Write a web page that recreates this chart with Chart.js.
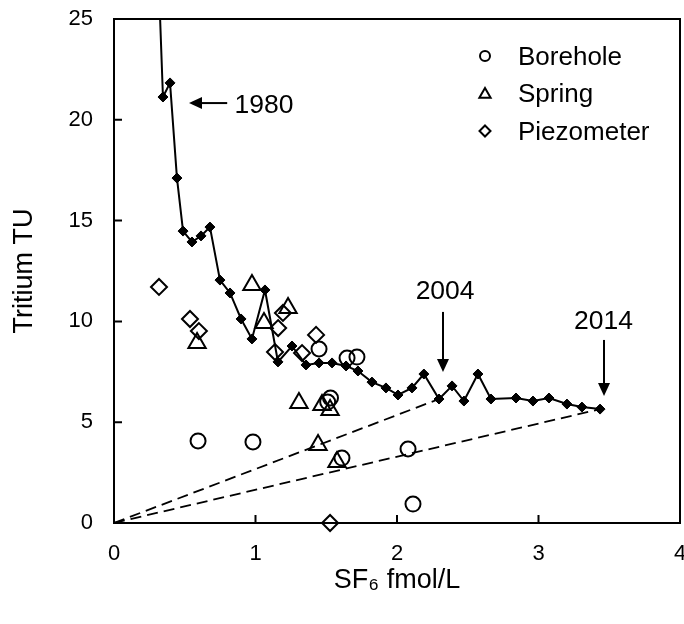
<!DOCTYPE html>
<html><head><meta charset="utf-8">
<script src="https://cdn.jsdelivr.net/npm/chart.js@4.4.1/dist/chart.umd.min.js"></script>
<style>html,body{margin:0;padding:0;background:#fff;} #wrap{width:684px;height:624px;}</style>
</head><body><div id="wrap"><canvas id="c" width="684" height="624"></canvas></div>
<script>
// ---- data ----
const curveX = [0.30, 0.346, 0.396, 0.445, 0.488, 0.551, 0.615, 0.678, 0.749, 0.82, 0.898, 0.975, 1.067, 1.159, 1.258, 1.357, 1.449, 1.541, 1.64, 1.724, 1.823, 1.922, 2.007, 2.106, 2.19, 2.297, 2.389, 2.473, 2.572, 2.664, 2.841, 2.961, 3.074, 3.201, 3.307, 3.435];
const curveY = [30, 21.13, 21.83, 17.11, 14.48, 13.94, 14.24, 14.68, 12.05, 11.41, 10.12, 9.13, 11.56, 7.99, 8.78, 7.84, 7.94, 7.94, 7.79, 7.54, 6.99, 6.70, 6.35, 6.70, 7.39, 6.15, 6.80, 6.05, 7.39, 6.15, 6.20, 6.05, 6.20, 5.90, 5.75, 5.65];

const boreholeX = [0.594, 0.982, 1.449, 1.647, 1.717, 1.53, 1.51, 1.611, 2.078, 2.113];
const boreholeY = [4.07, 4.02, 8.63, 8.18, 8.23, 6.2, 6.0, 3.22, 3.67, 0.94];

const springX = [0.975, 1.06, 1.23, 0.587, 1.307, 1.47, 1.527, 1.442, 1.576];
const springY = [11.81, 9.92, 10.66, 8.93, 5.95, 5.85, 5.6, 3.87, 3.03];

const piezoX = [0.318, 0.537, 0.60, 1.194, 1.16, 1.138, 1.329, 1.428, 1.527];
const piezoY = [11.71, 10.12, 9.52, 10.42, 9.67, 8.48, 8.43, 9.33, 0];

const dashAX = [0, 2.297], dashAY = [0, 6.15];
const dashBX = [0, 3.435], dashBY = [0, 5.65];

const xTicks = [0, 1, 2, 3, 4];
const yTicks = [0, 5, 10, 15, 20, 25];
const legendLabels = ['Borehole', 'Spring', 'Piezometer'];

// annotations (data units)
const annoLabels = ['1980', '2004', '2014'];
const annoTextX = [1.06, 2.34, 3.46];
const annoTextY = [20.83, 11.6, 10.07];
const arrowTailX = [0.80, 2.325, 3.463];
const arrowTailY = [20.83, 10.47, 9.08];
const arrowHeadX = [0.53, 2.325, 3.463];
const arrowHeadY = [20.83, 7.49, 6.30];

const pts = (xs, ys) => xs.map((x, i) => ({x, y: ys[i]}));
const FONT = "'Liberation Sans', Arial, sans-serif";

function drawMarker(ctx, style, x, y, r) {
  ctx.beginPath();
  if (style === 'circle') {
    ctx.arc(x, y, r, 0, Math.PI * 2);
  } else if (style === 'triangle') {
    ctx.moveTo(x, y - r);
    ctx.lineTo(x + r * Math.sin(Math.PI * 2 / 3), y + r / 2);
    ctx.lineTo(x - r * Math.sin(Math.PI * 2 / 3), y + r / 2);
    ctx.closePath();
  } else {
    ctx.moveTo(x, y - r); ctx.lineTo(x + r, y); ctx.lineTo(x, y + r); ctx.lineTo(x - r, y); ctx.closePath();
  }
  ctx.stroke();
}

// pin the plot area to the reference frame
const AREA = {left: 114, right: 680, top: 19, bottom: 523};
const areaPlugin = {
  id: 'area',
  afterLayout(chart) {
    const ca = chart.chartArea;
    Object.assign(ca, AREA);
    ca.width = AREA.right - AREA.left; ca.height = AREA.bottom - AREA.top;
    const xs = chart.scales.x, ys = chart.scales.y;
    xs.left = AREA.left; xs.right = AREA.right; xs.width = ca.width; xs.configure();
    ys.top = AREA.top; ys.bottom = AREA.bottom; ys.height = ca.height; ys.configure();
    xs._labelItems = null; ys._labelItems = null;
  }
};

const framePlugin = {
  id: 'frame',
  afterDraw(chart) {
    const ctx = chart.ctx, a = chart.chartArea;
    const xs = chart.scales.x, ys = chart.scales.y;
    ctx.save();
    ctx.strokeStyle = '#000'; ctx.fillStyle = '#000';
    ctx.lineWidth = 2;
    ctx.strokeRect(a.left, a.top, a.right - a.left, a.bottom - a.top);
    // inner ticks
    ctx.beginPath();
    xTicks.forEach(v => { const p = xs.getPixelForValue(v); ctx.moveTo(p, a.bottom); ctx.lineTo(p, a.bottom - 8); });
    yTicks.forEach(v => { const p = ys.getPixelForValue(v); ctx.moveTo(a.left, p); ctx.lineTo(a.left + 8, p); });
    ctx.stroke();
    // arrows
    for (let i = 0; i < annoLabels.length; i++) {
      const tx = xs.getPixelForValue(arrowTailX[i]), ty = ys.getPixelForValue(arrowTailY[i]);
      const hx = xs.getPixelForValue(arrowHeadX[i]), hy = ys.getPixelForValue(arrowHeadY[i]);
      const ang = Math.atan2(hy - ty, hx - tx);
      const L = 13, W = 6;
      const bx = hx - L * Math.cos(ang), by = hy - L * Math.sin(ang);
      ctx.lineWidth = 2;
      ctx.beginPath(); ctx.moveTo(tx, ty); ctx.lineTo(bx, by); ctx.stroke();
      ctx.beginPath();
      ctx.moveTo(hx, hy);
      ctx.lineTo(bx + W * Math.sin(ang), by - W * Math.cos(ang));
      ctx.lineTo(bx - W * Math.sin(ang), by + W * Math.cos(ang));
      ctx.closePath(); ctx.fill();
      ctx.font = '26.5px ' + FONT;
      ctx.textAlign = 'center'; ctx.textBaseline = 'alphabetic';
      ctx.fillText(annoLabels[i], xs.getPixelForValue(annoTextX[i]), ys.getPixelForValue(annoTextY[i]) + 9.5);
    }
    // legend
    const styles = ['circle', 'triangle', 'rectRot'];
    const sizes = [5, 6.5, 5.5];
    const rowY = [56, 93, 131];
    ctx.lineWidth = 2;
    ctx.font = '26px ' + FONT;
    ctx.textAlign = 'left';
    for (let i = 0; i < legendLabels.length; i++) {
      drawMarker(ctx, styles[i], 485, rowY[i] + (i === 1 ? 1.5 : 0), sizes[i]);
      ctx.fillText(legendLabels[i], 518, rowY[i] + 9);
    }
    ctx.restore();
  }
};

const zeroPad = s => { s.paddingTop = 0; s.paddingBottom = 0; s.paddingLeft = 0; s.paddingRight = 0; };
const tickFont = {family: FONT, size: 22};
new Chart(document.getElementById('c'), {
  type: 'scatter',
  data: {
    datasets: [
      {label: 'dashA', data: pts(dashAX, dashAY), showLine: true, borderColor: '#000', borderWidth: 1.8, borderDash: [11, 6], pointRadius: 0},
      {label: 'dashB', data: pts(dashBX, dashBY), showLine: true, borderColor: '#000', borderWidth: 1.8, borderDash: [11, 6], pointRadius: 0},
      {label: 'Input', data: pts(curveX, curveY), showLine: true, borderColor: '#000', borderWidth: 2, pointStyle: 'rectRot', pointRadius: 5, backgroundColor: '#000', pointBorderColor: '#000', pointBorderWidth: 1},
      {label: 'Borehole', data: pts(boreholeX, boreholeY), pointStyle: 'circle', pointRadius: 7.5, backgroundColor: 'rgba(0,0,0,0)', borderColor: '#000', pointBorderWidth: 2, clip: false},
      {label: 'Spring', data: pts(springX, springY), pointStyle: 'triangle', pointRadius: 10, backgroundColor: 'rgba(0,0,0,0)', borderColor: '#000', pointBorderWidth: 2, clip: false},
      {label: 'Piezometer', data: pts(piezoX, piezoY), pointStyle: 'rectRot', pointRadius: 8, backgroundColor: 'rgba(0,0,0,0)', borderColor: '#000', pointBorderWidth: 2, clip: false}
    ]
  },
  options: {
    responsive: false, animation: false, events: [],
    layout: {padding: {top: 19, right: 4, left: 0, bottom: 0}},
    plugins: {legend: {display: false}, tooltip: {enabled: false}},
    scales: {
      x: {
        type: 'linear', min: 0, max: 4,
        afterBuildTicks: s => { s.ticks = xTicks.map(v => ({value: v})); },
        afterFit: s => { s.height = 101; zeroPad(s); },
        grid: {display: false, drawTicks: false},
        border: {display: false},
        ticks: {color: '#000', font: tickFont, padding: 18},
        title: {display: true, text: 'SF\u2086 fmol/L', color: '#000', font: {family: FONT, size: 27}, padding: {top: 0, bottom: 27}}
      },
      y: {
        type: 'linear', min: 0, max: 25,
        afterBuildTicks: s => { s.ticks = yTicks.map(v => ({value: v})); },
        afterFit: s => { s.width = 114; zeroPad(s); },
        grid: {display: false, drawTicks: false},
        border: {display: false},
        ticks: {color: '#000', font: tickFont, padding: 21},
        title: {display: true, text: 'Tritium TU', color: '#000', font: {family: FONT, size: 27}, padding: {top: 8, bottom: 0}}
      }
    }
  },
  plugins: [areaPlugin, framePlugin]
});
</script></body></html>
